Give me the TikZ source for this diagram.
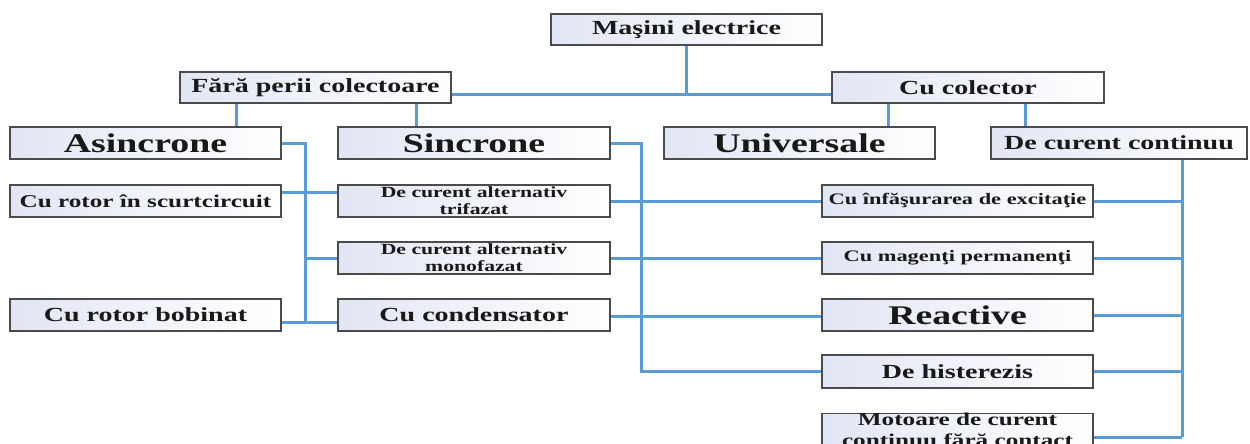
\documentclass[tikz,border=0pt]{standalone}
\usepackage{fontspec}
\setmainfont{Liberation Serif}[FakeStretch=1.4]
\usetikzlibrary{shadows}
\definecolor{boxL}{RGB}{226,230,244}
\definecolor{connC}{RGB}{91,155,213}
\definecolor{edgeC}{RGB}{75,75,75}
\begin{document}
\begin{tikzpicture}[x=1pt,y=-1pt,
  box/.style={draw=edgeC, line width=1.2pt, left color=boxL, right color=white,
    inner sep=0pt, align=center, text=black!90, minimum width=271pt, minimum height=31pt,
    drop shadow={shadow xshift=1.2pt, shadow yshift=-1.2pt, opacity=0.15}},
  fbig/.style={font=\bfseries\fontsize{27}{30}\selectfont},
  fmed/.style={font=\bfseries\fontsize{20}{23}\selectfont},
  fsm/.style={font=\bfseries\fontsize{18}{21}\selectfont},
  fsmall/.style={font=\bfseries\fontsize{16}{18}\selectfont},
  ftiny/.style={font=\bfseries\fontsize{15.5}{17}\selectfont},
  conn/.style={draw=connC, line width=3pt}
]
\useasboundingbox (0,0) rectangle (1250,444);

% row 0
\node[box, fmed] (masini) at (686.5,29.5) {Maşini electrice};
% row 1
\node[box, fmed] (fara) at (315.5,87.5) {Fără perii colectoare};
\node[box, fmed, minimum width=272pt] (colector) at (968,87.5) {Cu colector};
% row 2
\node[box, fbig, minimum height=32pt] (asincrone) at (145.5,143) {Asincrone};
\node[box, fbig, minimum height=32pt, minimum width=272pt] (sincrone) at (474,143) {Sincrone};
\node[box, fbig, minimum height=32pt] (universale) at (799.5,143) {Universale};
\node[box, fmed, minimum height=32pt, minimum width=256pt] (continuu) at (1119,143) {De curent continuu};
% row 3
\node[box, fsm, minimum height=32pt] (scurt) at (145.5,201) {Cu rotor în scurtcircuit};
\node[box, ftiny, minimum height=32pt, minimum width=272pt] (trifazat) at (474,201) {De curent alternativ\\trifazat};
\node[box, fsmall, minimum height=32pt, minimum width=271pt] (excitatie) at (957.5,201) {Cu înfăşurarea de excitaţie};
% row 4
\node[box, ftiny, minimum height=32pt, minimum width=272pt] (monofazat) at (474,258) {De curent alternativ\\monofazat};
\node[box, fsmall, minimum height=32pt] (magenti) at (957.5,258) {Cu magenţi permanenţi};
% row 5
\node[box, fmed, minimum height=32pt] (bobinat) at (145.5,315) {Cu rotor bobinat};
\node[box, fmed, minimum height=32pt, minimum width=272pt] (condensator) at (474,315) {Cu condensator};
\node[box, fbig, minimum height=32pt] (reactive) at (957.5,315) {Reactive};
% row 6
\node[box, fmed, minimum height=33pt] (histerezis) at (957.5,371.5) {De histerezis};
% row 7
\node[box, fsm] (motoare) at (957.5,430) {Motoare de curent\\continuu fără contact};

% junction coordinates
\coordinate (jm) at (686.5,94);
\coordinate (bA1) at (305,143);
\coordinate (bA2) at (305,322);
\coordinate (bS1) at (641,143);
\coordinate (bC) at (1182,437);

% top level
\draw[conn] (masini.south) -- (jm);
\draw[conn] (fara.east |- jm) -- (colector.west |- jm);
% Fara perii colectoare
\draw[conn] ([xshift=-79.5pt]fara.south) -- ([xshift=-79.5pt]fara.south |- asincrone.north);
\draw[conn] ([xshift=100.5pt]fara.south) -- ([xshift=100.5pt]fara.south |- sincrone.north);
% Cu colector
\draw[conn] ([xshift=-80pt]colector.south) -- ([xshift=-80pt]colector.south |- universale.north);
\draw[conn] ([xshift=57pt]colector.south) -- ([xshift=57pt]colector.south |- continuu.north);
% Asincrone bus
\draw[conn] (asincrone.east) -- (bA1) -- (bA2);
\draw[conn] ([yshift=9pt]scurt.east) -- ([yshift=9pt]trifazat.west);
\draw[conn] (bA1 |- monofazat.west) -- (monofazat.west);
\draw[conn] ([yshift=-7pt]bobinat.east) -- ([yshift=-7pt]condensator.west);
% Sincrone bus
\draw[conn] (sincrone.east) -- (bS1) |- (histerezis.west);
\draw[conn] (trifazat.east) -- (excitatie.west);
\draw[conn] (monofazat.east) -- (magenti.west);
\draw[conn] ([yshift=-1pt]condensator.east) -- ([yshift=-1pt]reactive.west);
% De curent continuu bus
\draw[conn] (continuu.south -| bC) -- (bC);
\draw[conn] (excitatie.east) -- (excitatie.east -| bC);
\draw[conn] (magenti.east) -- (magenti.east -| bC);
\draw[conn] (reactive.east) -- (reactive.east -| bC);
\draw[conn] (histerezis.east) -- (histerezis.east -| bC);
\draw[conn] ([yshift=-7pt]motoare.east) -- (bC);
\end{tikzpicture}
\end{document}
